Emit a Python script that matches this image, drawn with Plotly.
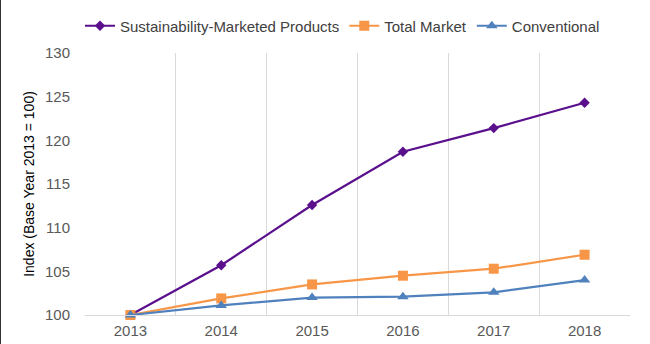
import plotly.graph_objects as go

years = ["2013", "2014", "2015", "2016", "2017", "2018"]
sustainability = [100.0, 105.7, 112.6, 118.7, 121.4, 124.3]
total_market = [100.0, 101.9, 103.5, 104.5, 105.3, 106.9]
conventional = [100.0, 101.1, 102.0, 102.1, 102.6, 104.0]

series_names = ["Sustainability-Marketed Products", "Total Market", "Conventional"]
colors = ["#5A0F8C", "#F79646", "#4F81BD"]
symbols = ["diamond", "square", "triangle-up"]
sizes = [8, 10, 10]

fig = go.Figure()
for name, vals, c, s, sz in zip(series_names, [sustainability, total_market, conventional], colors, symbols, sizes):
    fig.add_trace(go.Scatter(
        x=years, y=vals, name=name, mode="lines+markers",
        line=dict(color=c, width=2.2),
        marker=dict(symbol=s, size=sz, color=c),
        cliponaxis=False,
    ))

L, R, T, B = 85, 20, 53, 29
W, H = 650, 344
pw = W - L - R
ph = H - T - B

fig.update_layout(
    width=W, height=H,
    margin=dict(l=L, r=R, t=T, b=B, autoexpand=False),
    paper_bgcolor="white", plot_bgcolor="white",
    font=dict(family="Liberation Sans, Arial, sans-serif", size=15, color="#595959"),
    legend=dict(orientation="h", xref="container", x=80 / W, xanchor="left",
                yref="container", y=1 - 26 / H, yanchor="middle",
                font=dict(size=15, color="#404040"), itemwidth=30,
                traceorder="normal", bgcolor="rgba(0,0,0,0)"),
    xaxis=dict(type="category", range=[-0.5, 5.5], tickson="boundaries",
               showgrid=True, gridcolor="#D9D9D9", gridwidth=1,
               showline=True, linecolor="#D9D9D9", linewidth=1,
               ticks="", ticklabelstandoff=2, automargin=False,
               tickfont=dict(size=15, color="#595959"), mirror=False,
               fixedrange=True),
    yaxis=dict(range=[100, 130], dtick=5, tick0=100, showgrid=False, zeroline=False,
               showline=False, ticks="", ticklabelstandoff=14, automargin=False,
               tickfont=dict(size=15, color="#595959"),
               title=dict(text="Index (Base Year 2013 = 100)", font=dict(size=14, color="#000000"),
                          standoff=7)),
    shapes=[dict(type="line", xref="paper", yref="paper",
                 x0=-L / pw, x1=-L / pw, y0=-B / ph, y1=1 + T / ph,
                 line=dict(color="#333333", width=2))],
    showlegend=True,
)

fig.write_html("out.html")
